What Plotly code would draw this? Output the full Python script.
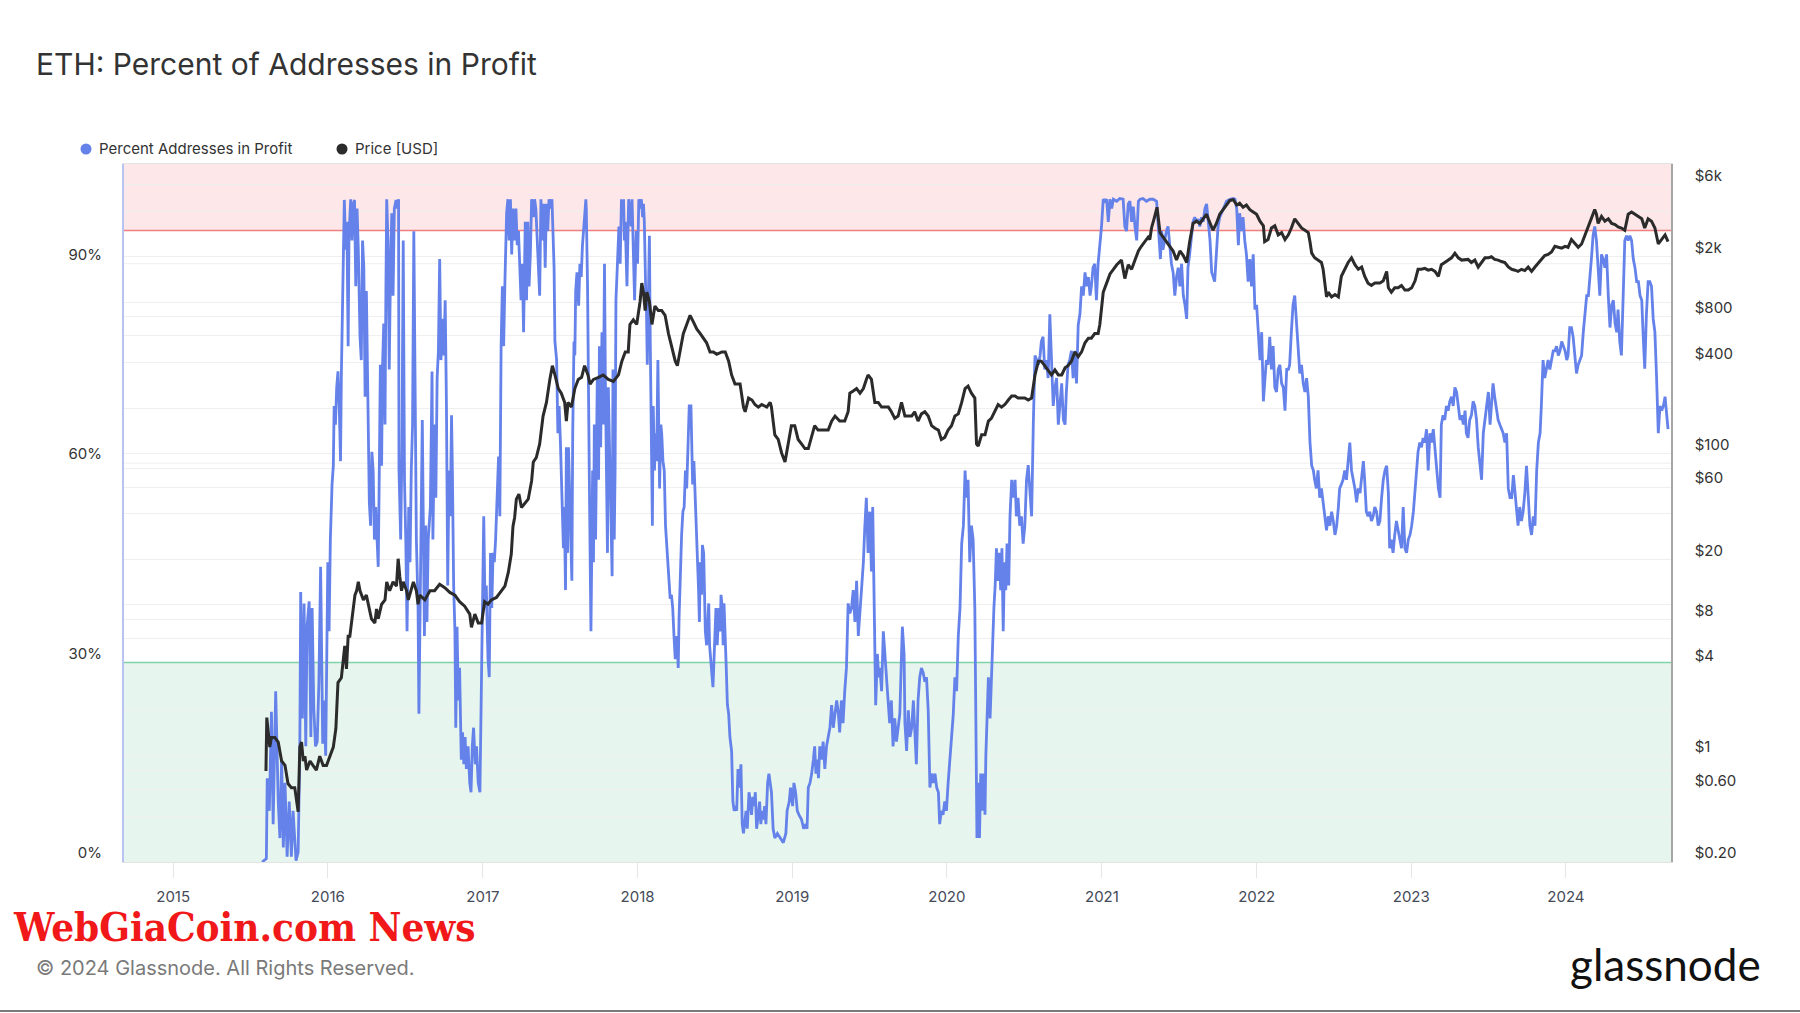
import plotly.graph_objects as go

# ---------------- data ----------------
pct_dates = [
"2015-07-30","2015-08-09","2015-08-11","2015-08-16","2015-08-21","2015-08-25","2015-08-31","2015-09-06","2015-09-10","2015-09-14",
"2015-09-18","2015-09-22","2015-09-27","2015-10-02","2015-10-07","2015-10-11","2015-10-18","2015-10-23","2015-10-27","2015-10-29",
"2015-11-02","2015-11-06","2015-11-10","2015-11-13","2015-11-18","2015-11-22","2015-11-25","2015-11-29","2015-12-03","2015-12-07",
"2015-12-11","2015-12-15","2015-12-20","2015-12-23","2015-12-27",
"2016-01-01","2016-01-04","2016-01-07","2016-01-11","2016-01-14","2016-01-16","2016-01-19","2016-01-22","2016-01-25","2016-01-28",
"2016-01-31","2016-02-02","2016-02-06","2016-02-09","2016-02-12","2016-02-15","2016-02-18","2016-02-20","2016-02-24","2016-02-27",
"2016-03-01","2016-03-04","2016-03-07","2016-03-10","2016-03-13","2016-03-17","2016-03-20","2016-03-23","2016-03-26","2016-03-29",
"2016-04-01","2016-04-05","2016-04-08","2016-04-11","2016-04-14","2016-04-17","2016-04-20","2016-04-23","2016-04-27","2016-04-29",
"2016-05-01","2016-05-04","2016-05-07","2016-05-09","2016-05-12","2016-05-15","2016-05-17","2016-05-19","2016-05-22","2016-05-25",
"2016-05-28","2016-05-31","2016-06-03","2016-06-06","2016-06-10","2016-06-13","2016-06-16","2016-06-17","2016-06-21","2016-06-24",
"2016-06-27","2016-06-30","2016-07-03","2016-07-06","2016-07-10","2016-07-13","2016-07-16","2016-07-19","2016-07-22","2016-07-25",
"2016-07-28","2016-08-01","2016-08-03","2016-08-11","2016-08-16","2016-08-19","2016-08-22","2016-08-25","2016-08-30","2016-09-03",
"2016-09-05","2016-09-09","2016-09-12","2016-09-15","2016-09-18","2016-09-21","2016-09-24","2016-09-28","2016-10-01","2016-10-04",
"2016-10-07","2016-10-10","2016-10-13","2016-10-16","2016-10-19","2016-10-21","2016-10-24","2016-10-27","2016-10-29","2016-11-01",
"2016-11-04","2016-11-07","2016-11-11","2016-11-14","2016-11-17","2016-11-20","2016-11-23","2016-11-27","2016-12-01","2016-12-04",
"2016-12-07","2016-12-10","2016-12-14","2016-12-17","2016-12-21","2016-12-25","2016-12-28","2016-12-31",
"2017-01-03","2017-01-06","2017-01-09","2017-01-13","2017-01-16","2017-01-19","2017-01-22","2017-01-25","2017-01-28","2017-01-31",
"2017-02-04","2017-02-07","2017-02-10","2017-02-13","2017-02-16","2017-02-19","2017-02-22","2017-02-26","2017-03-01","2017-03-04",
"2017-03-07","2017-03-10","2017-03-13","2017-03-16","2017-03-20","2017-03-23","2017-03-26","2017-03-29","2017-04-01","2017-04-04",
"2017-04-07","2017-04-11","2017-04-14","2017-04-17","2017-04-20","2017-04-23","2017-04-26","2017-04-30","2017-05-03","2017-05-06",
"2017-05-09","2017-05-12","2017-05-15","2017-05-18","2017-05-22","2017-05-25","2017-05-28","2017-05-31","2017-06-03","2017-06-06",
"2017-06-09","2017-06-13","2017-06-16","2017-06-18","2017-06-20","2017-06-24","2017-06-27","2017-06-30","2017-07-03","2017-07-05",
"2017-07-08","2017-07-10","2017-07-12","2017-07-15","2017-07-17","2017-07-20","2017-07-22","2017-07-24","2017-07-27","2017-07-30",
"2017-08-01","2017-08-04","2017-08-06","2017-08-08","2017-08-11","2017-08-13","2017-08-15","2017-08-18","2017-08-21","2017-08-24",
"2017-08-27","2017-08-29","2017-09-01","2017-09-02","2017-09-05","2017-09-07","2017-09-09","2017-09-13","2017-09-17","2017-09-19",
"2017-09-21","2017-09-24","2017-09-26","2017-09-28","2017-10-01","2017-10-03","2017-10-06","2017-10-09","2017-10-12","2017-10-15",
"2017-10-17","2017-10-20","2017-10-22","2017-10-24","2017-10-27","2017-10-30","2017-11-02","2017-11-04","2017-11-07","2017-11-09",
"2017-11-11","2017-11-15","2017-11-18","2017-11-21","2017-11-24","2017-11-26","2017-11-29","2017-12-01","2017-12-03","2017-12-07",
"2017-12-09","2017-12-11","2017-12-14","2017-12-17","2017-12-19","2017-12-22","2017-12-25","2017-12-29",
"2018-01-01","2018-01-04","2018-01-07","2018-01-10","2018-01-13","2018-01-15","2018-01-17","2018-01-20","2018-01-22","2018-01-24",
"2018-01-27","2018-01-29","2018-01-31","2018-02-03","2018-02-05","2018-02-07","2018-02-10","2018-02-12","2018-02-15","2018-02-18",
"2018-02-20","2018-02-22","2018-02-25","2018-02-27","2018-03-02","2018-03-05","2018-03-08","2018-03-10","2018-03-13","2018-03-16",
"2018-03-19","2018-03-22","2018-03-25","2018-03-28","2018-03-31","2018-04-04","2018-04-07","2018-04-09","2018-04-11","2018-04-15",
"2018-04-18","2018-04-21","2018-04-24","2018-04-27","2018-04-30","2018-05-03","2018-05-07","2018-05-09","2018-05-11","2018-05-14",
"2018-05-17","2018-05-19","2018-05-22","2018-05-25","2018-05-27","2018-05-29","2018-06-01","2018-06-03","2018-06-06","2018-06-08",
"2018-06-10","2018-06-13","2018-06-15","2018-06-18","2018-06-20","2018-06-23","2018-06-26","2018-06-28","2018-07-01","2018-07-03",
"2018-07-05","2018-07-08","2018-07-10","2018-07-12","2018-07-15","2018-07-17","2018-07-20","2018-07-22","2018-07-24","2018-07-27",
"2018-07-29","2018-08-01","2018-08-04","2018-08-07","2018-08-11","2018-08-14","2018-08-17","2018-08-20","2018-08-23","2018-08-26",
"2018-08-29","2018-09-02","2018-09-05","2018-09-08","2018-09-11","2018-09-14","2018-09-17","2018-09-21","2018-09-24","2018-09-27",
"2018-09-30","2018-10-03","2018-10-06","2018-10-09","2018-10-13","2018-10-16","2018-10-19","2018-10-22","2018-10-25","2018-10-28",
"2018-10-31","2018-11-04","2018-11-07","2018-11-13","2018-11-17","2018-11-21","2018-11-27","2018-12-03","2018-12-11","2018-12-17",
"2018-12-20","2018-12-25","2018-12-28",
"2019-01-02","2019-01-05","2019-01-09","2019-01-13","2019-01-17","2019-01-23","2019-01-28","2019-02-02","2019-02-05","2019-02-08",
"2019-02-12","2019-02-16","2019-02-20","2019-02-23","2019-02-26","2019-03-01","2019-03-04","2019-03-07","2019-03-11","2019-03-15",
"2019-03-19","2019-03-23","2019-03-27","2019-03-31","2019-04-04","2019-04-08","2019-04-12","2019-04-16","2019-04-20","2019-04-23",
"2019-04-27","2019-05-01","2019-05-05","2019-05-09","2019-05-13","2019-05-17","2019-05-21","2019-05-25","2019-05-29","2019-06-02",
"2019-06-06","2019-06-10","2019-06-14","2019-06-18","2019-06-21","2019-06-25","2019-06-29","2019-07-03","2019-07-07","2019-07-10",
"2019-07-13","2019-07-15","2019-07-17","2019-07-21","2019-07-24","2019-07-27","2019-07-31","2019-08-04","2019-08-08","2019-08-12",
"2019-08-16","2019-08-19","2019-08-23","2019-08-27","2019-08-31","2019-09-04","2019-09-08","2019-09-12","2019-09-16","2019-09-18",
"2019-09-22","2019-09-24","2019-09-28","2019-10-02","2019-10-06","2019-10-10","2019-10-14","2019-10-17","2019-10-21","2019-10-25",
"2019-10-29","2019-11-02","2019-11-06","2019-11-10","2019-11-14","2019-11-18","2019-11-22","2019-11-26","2019-11-30","2019-12-04",
"2019-12-08","2019-12-12","2019-12-15","2019-12-19","2019-12-23","2019-12-27","2019-12-31",
"2020-01-04","2020-01-08","2020-01-12","2020-01-16","2020-01-20","2020-01-24","2020-01-28","2020-02-01","2020-02-05","2020-02-09",
"2020-02-13","2020-02-16","2020-02-20","2020-02-24","2020-02-28","2020-03-03","2020-03-07","2020-03-09","2020-03-12","2020-03-15",
"2020-03-18","2020-03-21","2020-03-24","2020-03-28","2020-03-31","2020-04-02","2020-04-05","2020-04-08","2020-04-12","2020-04-15",
"2020-04-18","2020-04-21","2020-04-24","2020-04-27","2020-04-30","2020-05-04","2020-05-07","2020-05-10","2020-05-13","2020-05-16",
"2020-05-19","2020-05-22","2020-05-26","2020-05-29","2020-06-02","2020-06-06","2020-06-10","2020-06-13","2020-06-17","2020-06-21",
"2020-06-25","2020-06-29","2020-07-03","2020-07-07","2020-07-11","2020-07-15","2020-07-19","2020-07-23","2020-07-27","2020-07-31",
"2020-08-04","2020-08-08","2020-08-11","2020-08-15","2020-08-19","2020-08-23","2020-08-27","2020-08-31","2020-09-04","2020-09-08",
"2020-09-12","2020-09-16","2020-09-20","2020-09-24","2020-09-28","2020-10-02","2020-10-06","2020-10-09","2020-10-13","2020-10-17",
"2020-10-21","2020-10-25","2020-10-29","2020-11-02","2020-11-06","2020-11-10","2020-11-14","2020-11-18","2020-11-22","2020-11-26",
"2020-11-30","2020-12-04","2020-12-07","2020-12-11","2020-12-15","2020-12-19","2020-12-23","2020-12-27","2020-12-31",
"2021-01-04","2021-01-08","2021-01-12","2021-01-16","2021-01-20","2021-01-24","2021-01-28","2021-02-05","2021-02-12","2021-02-20",
"2021-02-24","2021-02-28","2021-03-04","2021-03-08","2021-03-12","2021-03-16","2021-03-20","2021-03-24","2021-03-28","2021-04-01",
"2021-04-08","2021-04-16","2021-04-24","2021-05-02","2021-05-10","2021-05-16","2021-05-19","2021-05-22","2021-05-25","2021-05-29",
"2021-06-02","2021-06-06","2021-06-10","2021-06-14","2021-06-18","2021-06-22","2021-06-26","2021-06-30","2021-07-04","2021-07-08",
"2021-07-12","2021-07-16","2021-07-20","2021-07-23","2021-07-27","2021-07-31","2021-08-04","2021-08-08","2021-08-12","2021-08-16",
"2021-08-20","2021-08-24","2021-08-28","2021-09-01","2021-09-05","2021-09-09","2021-09-13","2021-09-17","2021-09-20","2021-09-24",
"2021-09-28","2021-10-02","2021-10-06","2021-10-10","2021-10-14","2021-10-18","2021-10-22","2021-10-30","2021-11-07","2021-11-11",
"2021-11-15","2021-11-19","2021-11-22","2021-11-26","2021-11-30","2021-12-04","2021-12-08","2021-12-12","2021-12-16","2021-12-20",
"2021-12-24","2021-12-28",
"2022-01-01","2022-01-05","2022-01-09","2022-01-13","2022-01-17","2022-01-20","2022-01-24","2022-01-28","2022-02-01","2022-02-05",
"2022-02-09","2022-02-13","2022-02-17","2022-02-21","2022-02-25","2022-03-01","2022-03-05","2022-03-09","2022-03-13","2022-03-17",
"2022-03-20","2022-03-24","2022-03-28","2022-04-01","2022-04-05","2022-04-09","2022-04-13","2022-04-17","2022-04-21","2022-04-25",
"2022-04-29","2022-05-03","2022-05-07","2022-05-11","2022-05-15","2022-05-18","2022-05-22","2022-05-26","2022-05-30","2022-06-03",
"2022-06-07","2022-06-11","2022-06-15","2022-06-19","2022-06-23","2022-06-27","2022-07-01","2022-07-05","2022-07-09","2022-07-13",
"2022-07-16","2022-07-20","2022-07-24","2022-07-28","2022-08-01","2022-08-05","2022-08-09","2022-08-13","2022-08-17","2022-08-21",
"2022-08-25","2022-08-29","2022-09-02","2022-09-06","2022-09-10","2022-09-13","2022-09-17","2022-09-21","2022-09-25","2022-09-29",
"2022-10-03","2022-10-07","2022-10-11","2022-10-15","2022-10-19","2022-10-23","2022-10-27","2022-10-31","2022-11-04","2022-11-08",
"2022-11-11","2022-11-15","2022-11-19","2022-11-23","2022-11-27","2022-12-01","2022-12-05","2022-12-09","2022-12-13","2022-12-17",
"2022-12-21","2022-12-25","2022-12-29",
"2023-01-02","2023-01-06","2023-01-10","2023-01-13","2023-01-17","2023-01-21","2023-01-25","2023-01-29","2023-02-02","2023-02-06",
"2023-02-10","2023-02-14","2023-02-18","2023-02-22","2023-02-26","2023-03-02","2023-03-06","2023-03-10","2023-03-13","2023-03-17",
"2023-03-21","2023-03-25","2023-03-29","2023-04-02","2023-04-06","2023-04-10","2023-04-14","2023-04-18","2023-04-22","2023-04-26",
"2023-04-30","2023-05-04","2023-05-08","2023-05-11","2023-05-15","2023-05-19","2023-05-23","2023-05-27","2023-05-31","2023-06-04",
"2023-06-08","2023-06-12","2023-06-16","2023-06-20","2023-06-24","2023-06-28","2023-07-02","2023-07-06","2023-07-09","2023-07-13",
"2023-07-17","2023-07-21","2023-07-25","2023-07-29","2023-08-02","2023-08-06","2023-08-10","2023-08-14","2023-08-18","2023-08-22",
"2023-08-26","2023-08-30","2023-09-03","2023-09-06","2023-09-10","2023-09-14","2023-09-18","2023-09-22","2023-09-26","2023-09-30",
"2023-10-04","2023-10-08","2023-10-12","2023-10-16","2023-10-20","2023-10-24","2023-10-28","2023-11-01","2023-11-04","2023-11-08",
"2023-11-12","2023-11-16","2023-11-20","2023-11-24","2023-11-28","2023-12-02","2023-12-06","2023-12-10","2023-12-14","2023-12-18",
"2023-12-22","2023-12-26","2023-12-30",
"2024-01-03","2024-01-06","2024-01-10","2024-01-14","2024-01-18","2024-01-22","2024-01-26","2024-01-30","2024-02-03","2024-02-07",
"2024-02-11","2024-02-15","2024-02-19","2024-02-23","2024-02-27","2024-03-02","2024-03-05","2024-03-09","2024-03-13","2024-03-17",
"2024-03-21","2024-03-25","2024-03-29","2024-04-02","2024-04-06","2024-04-10","2024-04-14","2024-04-18","2024-04-22","2024-04-26",
"2024-04-30","2024-05-03","2024-05-07","2024-05-11","2024-05-15","2024-05-19","2024-05-23","2024-05-27","2024-05-31","2024-06-04",
"2024-06-08","2024-06-12","2024-06-16","2024-06-20","2024-06-24","2024-06-28","2024-07-01","2024-07-05","2024-07-09","2024-07-13",
"2024-07-17","2024-07-21","2024-07-25","2024-07-29","2024-08-02","2024-08-06","2024-08-10","2024-08-14","2024-08-18","2024-08-22",
"2024-08-26","2024-08-29",
]
pct_values = [
0.0,0.5,12.6,7.7,22.6,5.7,25.7,9.1,3.6,15.4,
2.2,11.9,0.8,9.1,0.8,7.7,0.2,1.5,17.4,40.6,
21.6,38.9,17.4,35.4,39.2,18.8,38.2,23.0,17.4,18.1,
27.1,44.4,17.8,24.3,16.0,
45.1,34.7,48.5,56.8,59.6,68.6,65.8,71.4,73.8,68.6,
60.3,73.4,88.7,99.6,92.1,96.3,77.6,94.2,99.7,93.5,
99.0,99.6,86.6,98.3,92.1,79.0,75.5,93.5,89.4,70.0,
85.9,65.8,54.1,50.6,61.7,58.9,48.5,53.4,47.2,44.4,
55.5,74.8,59.6,74.1,81.0,65.8,85.2,99.7,93.5,74.1,
89.4,97.6,85.2,98.3,99.6,98.3,99.7,58.9,48.5,62.4,
93.5,57.5,48.5,34.7,53.4,45.1,58.9,65.8,94.9,74.8,
48.5,38.2,22.3,66.5,34.0,50.6,36.1,48.5,53.4,73.8,
48.5,65.8,54.8,72.8,76.9,90.7,75.5,81.7,76.2,84.5,
68.6,41.6,58.9,52.0,67.2,58.9,41.6,34.7,20.2,35.4,
24.3,29.2,15.4,19.5,14.7,18.8,14.0,17.4,11.9,10.5,
17.4,20.2,14.7,17.4,11.9,10.5,24.3,38.2,
52.0,38.2,41.6,30.6,27.8,46.5,38.2,46.5,45.1,48.5,
57.5,61.0,52.0,77.6,86.6,77.6,87.3,97.6,99.7,93.5,
99.7,91.4,98.3,93.5,98.3,92.8,94.9,89.4,84.5,90.0,
79.7,96.3,84.5,96.3,86.6,91.4,99.7,97.0,99.7,98.3,
94.2,88.7,85.2,99.7,93.5,99.0,89.4,99.0,94.9,99.7,
98.3,99.7,94.9,89.4,78.3,75.5,64.5,68.6,63.1,58.9,
54.1,47.2,53.4,40.9,62.4,46.5,62.4,57.5,53.4,42.3,
64.5,78.3,76.2,85.9,88.7,85.2,83.7,90.0,88.0,92.8,
94.9,97.0,99.7,98.3,86.6,76.2,58.9,34.7,58.9,45.1,
65.8,48.5,63.1,72.8,57.5,77.6,62.4,79.7,65.8,90.0,
72.8,58.9,46.5,71.4,60.3,52.6,43.0,74.1,48.5,58.9,
84.5,90.7,95.6,90.0,99.7,97.0,99.7,93.5,96.3,86.6,
95.6,99.7,98.3,95.6,99.7,89.4,84.5,94.9,
90.0,99.7,98.3,99.7,97.0,99.0,96.3,86.6,83.1,74.8,
89.4,94.2,78.3,65.8,50.6,68.6,58.9,64.5,60.3,75.5,
62.4,56.2,65.8,64.5,60.3,58.9,50.6,48.5,45.1,42.3,
39.6,40.2,38.2,34.0,30.5,34.0,29.2,36.8,42.3,49.2,
52.7,53.4,58.9,56.2,62.4,68.6,68.6,62.4,56.8,60.3,
55.5,52.0,48.5,40.9,36.1,45.1,40.2,47.7,46.5,42.3,
34.7,32.6,35.4,38.9,32.6,29.2,27.8,26.3,31.3,34.7,
38.2,32.6,37.4,38.2,34.7,40.2,38.2,32.6,38.9,34.7,
29.9,23.7,22.3,18.8,16.7,9.1,7.7,8.4,7.7,14.0,
11.2,14.7,5.7,4.3,6.4,7.7,5.0,10.5,9.1,7.1,
9.8,8.4,10.5,5.0,7.1,9.1,5.7,7.7,6.4,8.4,
5.7,11.9,13.3,10.5,5.0,3.6,4.3,3.6,2.9,4.3,
7.7,9.1,11.2,
8.4,11.9,10.5,7.7,7.1,6.4,5.0,5.7,5.0,11.2,
11.9,13.3,15.4,17.4,13.3,15.4,12.6,17.4,15.4,18.1,
14.0,17.4,18.8,20.2,23.6,20.2,22.3,24.3,22.3,19.5,
24.3,20.9,25.7,29.2,38.9,37.4,38.2,40.9,36.1,42.3,
34.0,37.4,41.6,45.1,49.9,54.8,46.5,52.7,43.7,53.4,
40.9,31.3,23.6,31.3,27.8,29.2,25.7,34.7,31.3,27.8,
24.3,20.9,24.3,17.4,21.6,18.1,20.2,22.3,31.3,35.4,
31.3,20.9,16.7,22.8,18.8,20.2,24.3,20.9,14.7,24.3,
27.8,29.2,28.5,27.1,27.8,22.8,11.2,13.3,11.9,13.3,
11.2,10.5,5.7,7.7,7.1,9.1,7.7,
11.9,15.4,18.1,22.1,27.8,25.7,34.0,38.2,47.9,50.6,
58.9,54.8,57.5,45.1,50.6,48.5,38.2,17.4,3.6,11.9,
3.6,13.3,7.7,13.3,7.1,16.0,20.9,27.8,21.6,27.8,
35.4,38.2,41.6,47.2,42.3,46.5,40.9,47.2,34.7,45.1,
40.9,47.9,41.6,52.0,57.5,54.8,57.5,52.0,54.8,50.6,
52.0,47.9,50.6,57.5,59.7,54.8,52.0,65.8,76.2,75.5,
74.8,76.2,78.3,79.0,74.1,75.5,72.8,82.4,74.1,68.6,
71.4,72.8,65.8,68.6,72.0,66.5,65.8,70.7,74.8,75.5,
76.9,72.8,76.9,72.0,80.8,82.4,86.6,85.2,88.7,86.6,
88.0,85.2,86.6,89.4,90.0,84.5,90.0,92.8,95.6,
99.7,99.4,99.7,96.3,99.7,98.3,99.7,99.4,99.8,99.7,
95.6,94.9,99.0,99.4,96.3,98.6,95.6,93.5,99.4,99.7,
99.8,99.4,99.7,99.7,99.4,93.5,90.7,94.9,92.1,93.5,
94.9,95.6,92.1,90.0,88.7,85.2,88.0,89.4,86.6,90.0,
85.2,83.8,81.7,89.4,91.4,93.5,96.3,97.0,96.3,96.7,
95.6,97.0,96.3,98.3,99.0,96.3,93.5,88.7,88.0,87.3,
91.4,95.6,97.0,97.6,98.3,99.0,99.4,99.7,99.8,99.7,
98.3,92.8,97.6,94.9,97.0,93.5,91.4,87.3,90.7,86.6,
91.4,83.1,
83.8,79.7,75.5,79.7,69.3,72.0,75.5,74.8,79.0,74.1,
77.6,71.4,70.7,74.1,74.8,72.0,71.4,67.9,74.1,74.1,
74.8,79.7,83.8,85.2,81.0,76.2,73.5,74.8,72.0,70.7,
72.8,70.0,63.1,59.6,58.9,57.5,56.2,58.9,54.8,56.2,
54.1,52.0,49.9,52.0,50.6,52.7,51.3,49.2,50.6,53.4,
56.2,56.8,57.5,58.9,57.5,60.3,63.1,58.9,57.5,56.2,
54.1,56.2,55.5,57.5,60.3,57.5,52.7,52.0,52.7,51.3,
52.0,53.4,52.7,50.6,51.3,54.8,57.5,58.9,59.6,55.5,
47.2,48.5,46.5,49.2,51.3,49.9,48.5,47.2,53.4,47.2,
46.5,48.5,49.2,
50.6,52.7,56.2,58.9,61.7,63.1,62.4,63.8,63.1,65.1,
58.9,64.5,63.1,65.1,61.7,58.9,56.2,54.8,65.8,67.2,
66.5,68.6,67.9,69.3,70.0,68.6,71.4,70.7,68.6,66.5,
67.2,65.8,67.9,64.5,63.8,66.5,67.2,69.3,68.6,66.5,
62.4,60.3,57.5,64.5,66.5,68.6,70.7,65.8,68.6,72.0,
69.9,67.9,66.5,65.8,65.1,64.5,63.1,64.5,56.2,54.8,
54.8,58.2,55.5,53.4,50.6,53.4,51.3,52.7,55.5,59.6,
54.8,50.6,49.2,52.0,50.6,58.9,63.1,64.5,68.6,75.5,
72.8,74.1,75.5,74.1,75.5,76.9,76.9,77.6,76.2,76.9,
78.3,77.6,76.9,
75.5,76.2,80.4,80.4,79.0,76.2,73.5,74.8,75.5,76.2,
79.7,83.1,85.2,85.2,87.9,91.4,94.2,95.6,93.5,90.0,
85.2,91.4,90.7,89.4,91.4,85.2,80.4,83.8,84.5,81.0,
79.7,83.1,78.3,76.2,87.3,93.5,94.2,93.5,94.2,93.5,
90.7,89.4,87.3,87.3,85.2,84.5,79.7,74.2,82.4,87.3,
87.3,86.6,81.7,79.7,72.8,64.5,68.6,67.9,68.6,70.0,
67.2,65.1,
]

price_dates = [
"2015-08-08","2015-08-10","2015-08-17","2015-08-21","2015-08-29","2015-09-06","2015-09-14","2015-09-22","2015-09-29","2015-10-07",
"2015-10-15","2015-10-19","2015-10-23","2015-10-27","2015-10-31","2015-11-04","2015-11-08","2015-11-12","2015-11-20","2015-11-27",
"2015-12-05","2015-12-13","2015-12-21","2015-12-29",
"2016-01-06","2016-01-14","2016-01-20","2016-01-25","2016-02-02","2016-02-10","2016-02-14","2016-02-18","2016-02-22","2016-03-01",
"2016-03-05","2016-03-09","2016-03-13","2016-03-17","2016-03-21","2016-03-25","2016-04-01","2016-04-09","2016-04-13","2016-04-21",
"2016-04-25","2016-04-29","2016-05-07","2016-05-15","2016-05-19","2016-05-26","2016-06-03","2016-06-11","2016-06-15","2016-06-19",
"2016-06-23","2016-06-27","2016-07-05","2016-07-09","2016-07-21","2016-07-28","2016-08-01","2016-08-05","2016-08-17","2016-08-29",
"2016-09-09","2016-09-21","2016-10-03","2016-10-15","2016-10-27","2016-11-07","2016-11-19","2016-12-01","2016-12-05","2016-12-13",
"2016-12-21","2016-12-29",
"2017-01-05","2017-01-13","2017-01-21","2017-02-02","2017-02-14","2017-02-22","2017-03-02","2017-03-09","2017-03-13","2017-03-17",
"2017-03-21","2017-03-27","2017-04-02","2017-04-10","2017-04-18","2017-04-26","2017-04-30","2017-05-07","2017-05-15","2017-05-23",
"2017-05-31","2017-06-08","2017-06-14","2017-06-20","2017-06-28","2017-07-05","2017-07-13","2017-07-17","2017-07-21","2017-07-29",
"2017-08-06","2017-08-14","2017-08-22","2017-08-29","2017-09-06","2017-09-11","2017-09-19","2017-10-01","2017-10-12","2017-10-24",
"2017-11-05","2017-11-17","2017-11-25","2017-12-03","2017-12-10","2017-12-14","2017-12-22","2017-12-30",
"2018-01-07","2018-01-11","2018-01-15","2018-01-19","2018-01-23","2018-01-29","2018-02-04","2018-02-11","2018-02-19","2018-02-27",
"2018-03-07","2018-03-15","2018-03-23","2018-03-31","2018-04-05","2018-04-11","2018-04-19","2018-04-27","2018-05-05","2018-05-13",
"2018-05-21","2018-05-29","2018-06-06","2018-06-13","2018-06-21","2018-06-29","2018-07-07","2018-07-19","2018-07-27","2018-08-04",
"2018-08-11","2018-08-19","2018-08-31","2018-09-08","2018-09-12","2018-09-20","2018-09-28","2018-10-05","2018-10-13","2018-10-21",
"2018-11-02","2018-11-10","2018-11-13","2018-11-21","2018-11-29","2018-12-07","2018-12-15","2018-12-23","2018-12-30",
"2019-01-07","2019-01-15","2019-01-23","2019-01-31","2019-02-08","2019-02-16","2019-02-23","2019-03-03","2019-03-15","2019-03-27",
"2019-04-04","2019-04-12","2019-04-23","2019-05-05","2019-05-13","2019-05-17","2019-05-25","2019-06-02","2019-06-10","2019-06-18",
"2019-06-25","2019-06-29","2019-07-07","2019-07-15","2019-07-23","2019-07-31","2019-08-08","2019-08-16","2019-08-23","2019-08-31",
"2019-09-08","2019-09-16","2019-09-24","2019-10-02","2019-10-10","2019-10-17","2019-10-25","2019-11-02","2019-11-10","2019-11-18",
"2019-11-26","2019-12-04","2019-12-12","2019-12-19","2019-12-27",
"2020-01-04","2020-01-12","2020-01-20","2020-01-28","2020-02-05","2020-02-13","2020-02-20","2020-02-28","2020-03-07","2020-03-11",
"2020-03-15","2020-03-23","2020-03-31","2020-04-08","2020-04-15","2020-04-23","2020-05-01","2020-05-09","2020-05-17","2020-05-25",
"2020-06-02","2020-06-10","2020-06-17","2020-06-25","2020-07-03","2020-07-11","2020-07-19","2020-07-27","2020-08-04","2020-08-11",
"2020-08-19","2020-08-27","2020-09-04","2020-09-12","2020-09-20","2020-09-28","2020-10-06","2020-10-13","2020-10-21","2020-10-29",
"2020-11-06","2020-11-14","2020-11-22","2020-11-30","2020-12-07","2020-12-15","2020-12-23","2020-12-27","2020-12-31",
"2021-01-04","2021-01-12","2021-01-20","2021-01-28","2021-02-05","2021-02-16","2021-02-24","2021-03-04","2021-03-12","2021-03-20",
"2021-03-28","2021-04-04","2021-04-12","2021-04-20","2021-04-24","2021-04-28","2021-05-04","2021-05-11","2021-05-18","2021-05-25",
"2021-06-02","2021-06-10","2021-06-18","2021-06-26","2021-07-04","2021-07-12","2021-07-20","2021-07-27","2021-08-04","2021-08-12",
"2021-08-20","2021-08-28","2021-09-05","2021-09-09","2021-09-13","2021-09-20","2021-09-28","2021-10-06","2021-10-14","2021-10-22",
"2021-10-30","2021-11-07","2021-11-15","2021-11-22","2021-11-30","2021-12-08","2021-12-16","2021-12-24",
"2022-01-01","2022-01-09","2022-01-17","2022-01-20","2022-01-28","2022-02-05","2022-02-13","2022-02-21","2022-03-01","2022-03-09",
"2022-03-17","2022-03-24","2022-04-01","2022-04-09","2022-04-17","2022-04-25","2022-05-03","2022-05-07","2022-05-11","2022-05-18",
"2022-05-26","2022-06-03","2022-06-07","2022-06-11","2022-06-15","2022-06-19","2022-06-27","2022-07-05","2022-07-13","2022-07-20",
"2022-07-28","2022-08-05","2022-08-13","2022-08-21","2022-08-29","2022-09-06","2022-09-13","2022-09-21","2022-09-29","2022-10-07",
"2022-10-19","2022-10-27","2022-11-04","2022-11-08","2022-11-15","2022-11-23","2022-12-01","2022-12-09","2022-12-17","2022-12-25",
"2023-01-02","2023-01-10","2023-01-17","2023-01-25","2023-02-02","2023-02-10","2023-02-18","2023-02-26","2023-03-06","2023-03-13",
"2023-03-21","2023-03-29","2023-04-06","2023-04-14","2023-04-22","2023-04-30","2023-05-08","2023-05-15","2023-05-23","2023-05-31",
"2023-06-08","2023-06-16","2023-06-24","2023-07-02","2023-07-09","2023-07-17","2023-07-25","2023-08-02","2023-08-10","2023-08-18",
"2023-08-26","2023-09-03","2023-09-10","2023-09-18","2023-09-26","2023-10-04","2023-10-12","2023-10-20","2023-10-28","2023-11-04",
"2023-11-12","2023-11-20","2023-11-28","2023-12-06","2023-12-14","2023-12-22","2023-12-30",
"2024-01-06","2024-01-14","2024-01-22","2024-01-30","2024-02-07","2024-02-15","2024-02-23","2024-03-02","2024-03-09","2024-03-13",
"2024-03-17","2024-03-25","2024-04-02","2024-04-10","2024-04-18","2024-04-26","2024-05-03","2024-05-11","2024-05-19","2024-05-27",
"2024-06-04","2024-06-12","2024-06-20","2024-06-28","2024-07-05","2024-07-13","2024-07-21","2024-07-29","2024-08-06","2024-08-14",
"2024-08-22","2024-08-29",
]
price_values = [
0.80,1.80,1.15,1.33,1.33,1.24,0.93,0.87,0.66,0.62,
0.62,0.53,0.43,1.15,1.24,0.93,1.00,0.81,0.93,0.87,
0.81,1.00,0.87,0.87,
1.00,1.15,1.52,3.07,3.30,5.36,3.78,6.20,6.20,9.40,
11.6,12.4,14.2,12.4,11.6,10.8,11.6,9.40,8.10,7.60,
9.40,8.10,10.1,10.8,14.2,12.4,14.2,13.3,20.2,15.3,
12.4,14.2,12.4,10.8,14.2,12.4,10.1,11.6,10.8,12.4,
12.4,13.7,13.0,12.1,11.6,10.5,9.80,8.70,7.10,8.70,
7.60,7.60,
10.5,10.1,10.8,11.2,12.4,13.3,16.4,21.7,33.0,38.0,
50.0,54.0,44.0,47.0,50.0,66.0,88.0,94.0,116,177,
218,309,381,331,269,251,218,164,218,203,
269,309,319,381,331,288,309,319,331,309,
300,331,408,470,470,714,766,714,
1012,1339,1165,881,1165,1012,714,944,881,881,
820,621,503,408,381,470,621,714,820,740,
665,621,579,540,470,470,453,470,470,408,
331,288,288,203,189,233,226,211,203,211,
203,218,203,133,124,101,88,116,153,
153,124,116,108,108,133,153,143,143,143,
164,177,164,164,189,251,259,269,251,269,
309,331,309,218,218,203,203,203,189,171,
177,218,177,177,177,189,164,183,189,177,
153,147,143,124,128,
143,153,177,183,218,269,279,251,233,116,
112,133,133,164,171,189,211,203,211,226,
240,240,233,233,233,226,233,331,408,408,
381,357,331,357,331,331,369,381,408,470,
437,470,540,579,579,621,621,714,944,
1165,1339,1541,1652,1771,1901,1436,1771,1652,1901,
2183,2344,2515,2694,2600,3100,3564,4246,2887,2694,
2515,2344,2183,1901,2183,2038,1833,2515,3320,3437,
3320,3564,3820,3564,3320,2992,3320,3820,4096,4393,
4712,4760,4393,4520,4246,4393,4096,3955,
3820,3437,3206,2515,2600,3097,3206,2790,2887,2600,
2790,3097,3564,3320,3097,2992,2887,2515,2112,1968,
1901,1833,1652,1339,1086,1165,1086,1125,1086,1486,
1652,1833,1968,1771,1652,1711,1486,1339,1292,1339,
1339,1387,1600,1247,1165,1247,1247,1292,1205,1205,
1247,1387,1652,1652,1676,1630,1652,1600,1486,1771,
1833,1901,1968,2112,1968,1901,1901,1920,1833,1901,
1711,1833,1968,1968,2000,1920,1901,1860,1833,1711,
1652,1630,1600,1652,1620,1711,1600,1711,1833,1920,
2038,2070,2150,2344,2310,2280,2344,
2310,2600,2430,2310,2430,2790,3206,3695,4096,3820,
3320,3695,3437,3564,3320,3260,3150,3097,2992,3820,
3955,3820,3695,3564,3097,3564,3437,3097,2430,2600,
2790,2515,
]

pct_tick_values = [0, 30, 60, 90]
pct_tick_labels = ["0%", "30%", "60%", "90%"]
price_grid_values = [0.2, 0.4, 0.6, 0.8, 1, 2, 4, 6, 8, 10, 20, 40, 60, 80,
                     100, 200, 400, 600, 800, 1000, 2000, 4000, 6000]
price_grid_labels = ["$0.20", "", "$0.60", "", "$1", "", "$4", "", "$8", "", "$20", "", "$60", "",
                     "$100", "", "$400", "", "$800", "", "$2k", "", "$6k"]
profit_zone = [95, 105]
loss_zone = [0, 30]
legend_names = ["Percent Addresses in Profit", "Price [USD]"]

BLUE = "#6482e9"
BLACK = "#2b2b2b"
FONT = "Inter, Roboto, sans-serif"
GRID = "#efefef"

L, R, T, B = 124, 129, 164, 151
W, H = 1800, 1013
pw, ph = W - L - R, H - T - B


def px_x(x):
    return (x - L) / pw


def px_y(y):
    return (H - B - y) / ph


fig = go.Figure()

fig.add_trace(go.Scatter(x=pct_dates, y=pct_values, mode="lines", name=legend_names[0],
                         line=dict(color=BLUE, width=2.8), showlegend=False, yaxis="y"))
fig.add_trace(go.Scatter(x=price_dates, y=price_values, mode="lines", name=legend_names[1],
                         line=dict(color=BLACK, width=3.0), showlegend=False, yaxis="y2"))

# zones
fig.add_shape(type="rect", xref="x domain", yref="y", x0=0, x1=1, y0=profit_zone[0], y1=profit_zone[1],
              fillcolor="#fde7e8", line=dict(width=0), layer="below")
fig.add_shape(type="rect", xref="x domain", yref="y", x0=0, x1=1, y0=loss_zone[0], y1=loss_zone[1],
              fillcolor="#e6f6ee", line=dict(width=0), layer="below")
# left-axis gridlines (drawn as shapes so the zone borders stay on top)
for v in pct_tick_values[2:]:
    fig.add_shape(type="line", xref="x domain", yref="y", x0=0, x1=1, y0=v, y1=v,
                  line=dict(color=GRID, width=1), layer="below")
fig.add_shape(type="line", xref="x domain", yref="y", x0=0, x1=1, y0=profit_zone[0], y1=profit_zone[0],
              line=dict(color="#f07f80", width=1.5), layer="below")
fig.add_shape(type="line", xref="x domain", yref="y", x0=0, x1=1, y0=loss_zone[1], y1=loss_zone[1],
              line=dict(color="#7fd2a9", width=1.5), layer="below")
# bottom border line of the image
fig.add_shape(type="line", xref="paper", yref="paper", x0=px_x(0), x1=px_x(W), y0=px_y(1011), y1=px_y(1011),
              line=dict(color="#7a7a7a", width=2))

# legend (dots + labels, positioned as in the reference)
legend_dot_x = [86, 342]
legend_text_x = [97, 353]
for name, color, dx, tx in zip(legend_names, [BLUE, BLACK], legend_dot_x, legend_text_x):
    fig.add_shape(type="circle", xref="paper", yref="paper", xsizemode="pixel", ysizemode="pixel",
                  xanchor=px_x(dx), yanchor=px_y(149), x0=-5.5, x1=5.5, y0=-5.5, y1=5.5,
                  fillcolor=color, line=dict(width=0))
    fig.add_annotation(text=name, xref="paper", yref="paper", x=px_x(tx), y=px_y(149),
                       xanchor="left", yanchor="middle", showarrow=False,
                       font=dict(family=FONT, size=15, color="#333333"))

fig.update_layout(
    width=W, height=H, autosize=False,
    margin=dict(l=L, r=R, t=T, b=B),
    paper_bgcolor="white", plot_bgcolor="white",
    font=dict(family=FONT, color="#333333"),
    title=dict(text="ETH: Percent of Addresses in Profit", xref="container", yref="container",
               x=36 / W, xanchor="left", y=1 - 64 / H, yanchor="middle",
               font=dict(family=FONT, size=30, color="#333333")),
    showlegend=False,
    xaxis=dict(type="date", range=["2014-09-07", "2024-09-05"], tick0="2015-01-01", dtick="M12",
               tickformat="%Y", ticks="outside", ticklen=15, tickcolor="#e6e6e6", tickwidth=1,
               showgrid=False, showline=True, linecolor="#e3e3e3", linewidth=1, mirror=True,
               zeroline=False, tickfont=dict(family=FONT, size=15, color="#454a58"),
               ticklabelstandoff=6),
    yaxis=dict(range=[0, 105], tickvals=pct_tick_values, ticktext=pct_tick_labels,
               showgrid=False, zeroline=False,
               showline=True, linecolor="#b8c3f2", linewidth=2, ticks="",
               tickfont=dict(family=FONT, size=15, color="#333333"),
               ticklabelstandoff=17, ticklabelshift=-9),
    yaxis2=dict(type="log", overlaying="y", side="right", range=[-0.699, 3.914],
                tickvals=price_grid_values, ticktext=price_grid_labels,
                showgrid=True, gridcolor=GRID, gridwidth=1, zeroline=False,
                showline=True, linecolor="#a6a6a6", linewidth=1.5, ticks="",
                tickfont=dict(family=FONT, size=15, color="#333333"),
                ticklabelstandoff=19, ticklabelshift=-9),
)

fig.add_annotation(text="WebGiaCoin.com News", xref="paper", yref="paper", x=px_x(11), y=px_y(926),
                   xanchor="left", yanchor="middle", showarrow=False,
                   font=dict(family="DejaVu Serif Condensed, DejaVu Serif", size=40, color="#f01818", weight="bold"))
fig.add_annotation(text="© 2024 Glassnode. All Rights Reserved.", xref="paper", yref="paper",
                   x=px_x(34), y=px_y(968), xanchor="left", yanchor="middle", showarrow=False,
                   font=dict(family=FONT, size=20, color="#7a7a7a"))
fig.add_annotation(text="glassnode", xref="paper", yref="paper", x=px_x(1763), y=px_y(964),
                   xanchor="right", yanchor="middle", showarrow=False,
                   font=dict(family="Lato, sans-serif", size=44, color="#111111"))

fig.write_html("out.html", config={"displayModeBar": False})
